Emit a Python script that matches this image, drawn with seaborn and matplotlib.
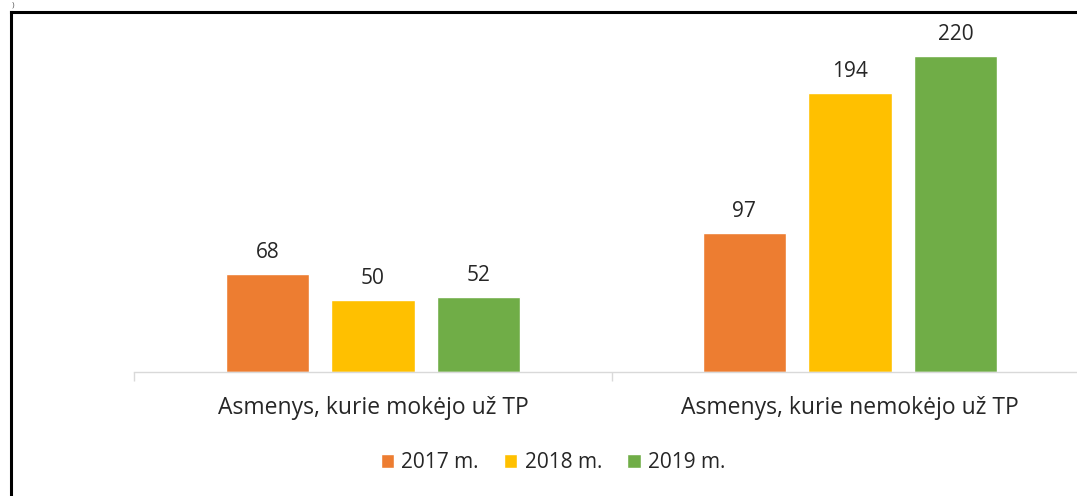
import numpy as np
import pandas as pd
import matplotlib.pyplot as plt
import seaborn as sns
from matplotlib.lines import Line2D
from matplotlib.ticker import FixedLocator

# Data
categories = ['Asmenys, kurie mokėjo už TP', 'Asmenys, kurie nemokėjo už TP']
years = ['2017 m.', '2018 m.', '2019 m.']
values_2017 = [68, 97]
values_2018 = [50, 194]
values_2019 = [52, 220]
colors = ['#ED7D31', '#FFC000', '#70AD47']

rows = []
for year, vals in zip(years, [values_2017, values_2018, values_2019]):
    for cat, v in zip(categories, vals):
        rows.append({'kategorija': cat, 'metai': year, 'reiksme': v})
df = pd.DataFrame(rows)

sns.set_theme(style='white')
plt.rcParams['font.family'] = ['Open Sans', 'DejaVu Sans']

fig = plt.figure(figsize=(10.77, 4.96), dpi=100)
ax = fig.add_axes([134.5 / 1077, 124 / 496, (1077 - 134.5) / 1077, 360 / 496])

sns.barplot(data=df, x='kategorija', y='reiksme', hue='metai', palette=colors,
            saturation=1, width=0.664, gap=0.21, ax=ax, legend=True)

for cont in ax.containers:
    ax.bar_label(cont, padding=8, fontsize=15, color='#262626')

ax.set_xlim(-0.5, (1077 - 134.5) / 477 - 0.5)
ax.set_ylim(0, 250.7)
ax.set_xlabel('')
ax.set_ylabel('')
ax.set_yticks([])
for s in ['top', 'right', 'left']:
    ax.spines[s].set_visible(False)
ax.spines['bottom'].set_color('#d9d9d9')
ax.spines['bottom'].set_linewidth(1)

ax.tick_params(axis='x', which='major', length=0, pad=17.5, labelsize=16.5, labelcolor='#262626')
ax.xaxis.set_minor_locator(FixedLocator([-0.5, 0.5]))
ax.tick_params(axis='x', which='minor', length=6.5, color='#d9d9d9', width=1, bottom=True)

ax.legend(loc='center', bbox_to_anchor=(553 / 1077, 33 / 496), bbox_transform=fig.transFigure,
          ncol=3, frameon=False, fontsize=15, handlelength=0.65, handleheight=0.65,
          handletextpad=0.35, columnspacing=1.2, labelcolor='#262626')

# outer frame lines
fig.add_artist(Line2D([11 / 1077, 11 / 1077], [0, 1 - 12 / 496], color='black', lw=2.2,
                      transform=fig.transFigure, solid_capstyle='projecting'))
fig.add_artist(Line2D([11 / 1077, 1], [1 - 12 / 496, 1 - 12 / 496], color='black', lw=2.2,
                      transform=fig.transFigure, solid_capstyle='projecting'))
fig.text(12 / 1077, 1 - 1 / 496, ')', fontsize=6, color='#555555', va='top')

fig.savefig('out.png', dpi=100, facecolor='white')
